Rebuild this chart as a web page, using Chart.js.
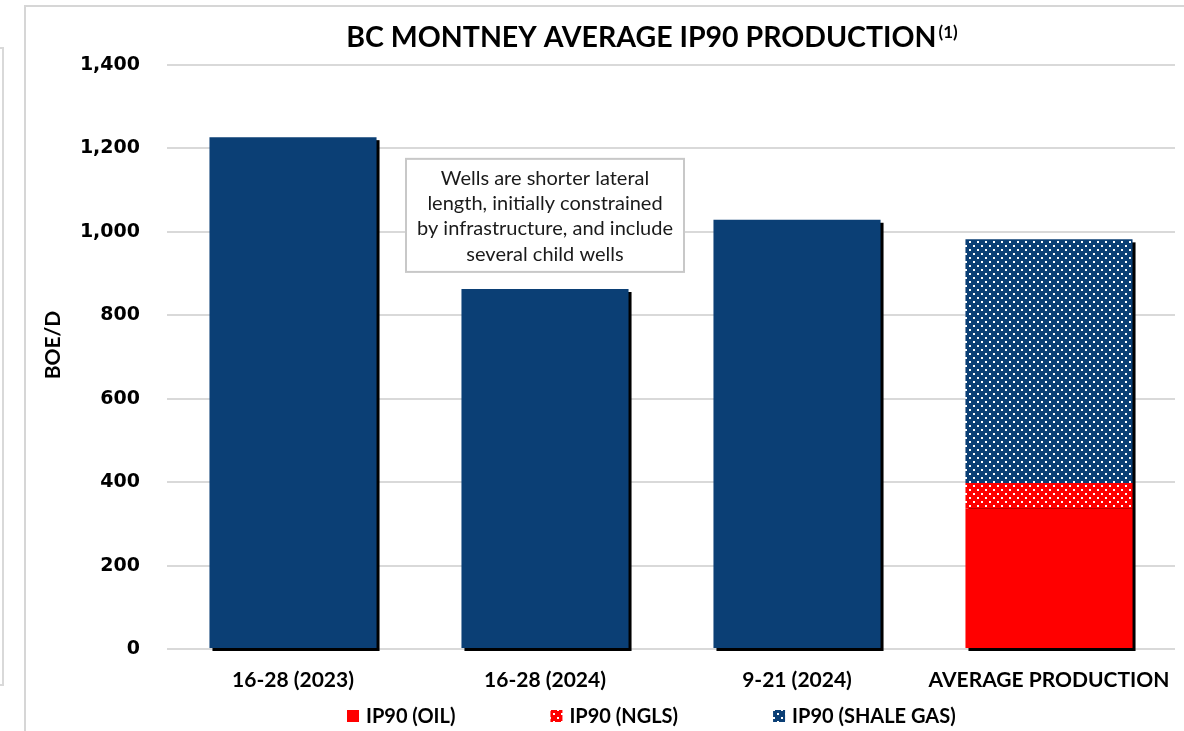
<!DOCTYPE html>
<html>
<head>
<meta charset="utf-8">
<script src="https://cdn.jsdelivr.net/npm/chart.js@4.4.1/dist/chart.umd.min.js"></script>
<style>
  html, body { margin: 0; padding: 0; background: #ffffff; overflow: hidden; }
  #wrap { position: absolute; left: 0; top: 0; width: 1184px; height: 731px; }
  .frame1 { position: absolute; left: 24px; top: 5px; width: 1300px; height: 900px; border: 2px solid #d6d6d6; box-sizing: border-box; }
  .frame2 { position: absolute; left: -20px; top: 47px; width: 24px; height: 639px; border: 2px solid #d9d9d9; box-sizing: border-box; }
</style>
</head>
<body>
<div class="frame1"></div>
<div class="frame2"></div>
<div id="wrap"><canvas id="c"></canvas></div>
<script>
// ---- data ----
const categories = ['16-28 (2023)', '16-28 (2024)', '9-21 (2024)', 'AVERAGE PRODUCTION'];
const totalIP90 = [1227, 863, 1029, null];
const oilIP90 = [null, null, null, 337];
const nglIP90 = [null, null, null, 61];
const gasIP90 = [null, null, null, 584];
const yTicks = [0, 200, 400, 600, 800, 1000, 1200, 1400];
const titleText = 'BC MONTNEY AVERAGE IP90 PRODUCTION';
const titleSup = '(1)';
const yAxisTitle = 'BOE/D';
const noteLines = ['Wells are shorter lateral', 'length, initially constrained', 'by infrastructure, and include', 'several child wells'];

const BLUE = '#0b3f75';
const RED = '#ff0000';

function dotPattern(bg) {
  const c = document.createElement('canvas');
  c.width = 8; c.height = 8;
  const x = c.getContext('2d');
  x.fillStyle = bg; x.fillRect(0, 0, 8, 8);
  x.fillStyle = '#ffffff';
  x.fillRect(1, 1, 2, 2);
  x.fillRect(5, 5, 2, 2);
  return x.createPattern(c, 'repeat');
}

const nglPattern = dotPattern(RED);
const gasPattern = dotPattern(BLUE);

// shadow behind each stacked bar
const shadowPlugin = {
  id: 'barShadow',
  beforeDatasetsDraw(chart) {
    const ctx = chart.ctx;
    const n = chart.data.labels.length;
    ctx.save();
    ctx.fillStyle = '#000000';
    for (let i = 0; i < n; i++) {
      let top = Infinity, base = -Infinity, left = 0, width = 0, found = false;
      chart.data.datasets.forEach((ds, di) => {
        const v = ds.data[i];
        if (v === null || v === undefined) return;
        const el = chart.getDatasetMeta(di).data[i];
        if (!el) return;
        const p = el.getProps(['x', 'y', 'base', 'width'], true);
        top = Math.min(top, p.y, p.base);
        base = Math.max(base, p.y, p.base);
        left = p.x - p.width / 2; width = p.width; found = true;
      });
      if (found) ctx.fillRect(left + 3, top + 3, width, base - top);
    }
    ctx.restore();
  }
};

const decorPlugin = {
  id: 'decor',
  afterDraw(chart) {
    const ctx = chart.ctx;
    const xs = chart.scales.x, ys = chart.scales.y;
    ctx.save();
    // title
    ctx.fillStyle = '#000000';
    ctx.textBaseline = 'alphabetic';
    ctx.font = 'bold 28.5px Lato';
    const mainW = ctx.measureText(titleText).width;
    ctx.font = 'bold 17px Lato';
    const supW = ctx.measureText(titleSup).width;
    const tx = 652 - (mainW + supW + 2) / 2;
    ctx.font = 'bold 28.5px Lato';
    ctx.textAlign = 'left';
    ctx.fillText(titleText, tx, 47);
    ctx.font = 'bold 17px Lato';
    ctx.fillText(titleSup, tx + mainW + 2, 38);

    // y axis title
    ctx.save();
    ctx.translate(53, 345);
    ctx.rotate(-Math.PI / 2);
    ctx.font = 'bold 21px Lato';
    ctx.textAlign = 'center';
    ctx.textBaseline = 'middle';
    ctx.fillText(yAxisTitle, 0, 0);
    ctx.restore();

    // annotation box over second category
    const cx = xs.getPixelForValue(1);
    const bTop = ys.getPixelForValue(1175);
    const bBot = ys.getPixelForValue(904);
    const bw = 278;
    ctx.fillStyle = '#ffffff';
    ctx.fillRect(cx - bw / 2, bTop, bw, bBot - bTop);
    ctx.strokeStyle = '#c8c8c8';
    ctx.lineWidth = 2;
    ctx.strokeRect(cx - bw / 2, bTop, bw, bBot - bTop);
    ctx.fillStyle = '#1a1a1a';
    ctx.font = '20px Lato';
    ctx.textAlign = 'center';
    ctx.textBaseline = 'middle';
    const mid = (bTop + bBot) / 2 + 1;
    noteLines.forEach((t, i) => {
      ctx.fillText(t, cx, mid + (i - 1.5) * 25.3);
    });

    // legend
    const items = chart.data.datasets.filter(d => d.showInLegend);
    ctx.font = 'bold 20px Lato';
    ctx.textAlign = 'left';
    ctx.textBaseline = 'middle';
    let x = 347;
    const ly = 716;
    items.forEach(d => {
      ctx.fillStyle = d.backgroundColor;
      ctx.fillRect(x, ly - 6, 12, 12);
      ctx.fillStyle = '#000000';
      ctx.fillText(d.label, x + 19, ly + 1);
      x += 19 + ctx.measureText(d.label).width + 95;
    });
    ctx.restore();
  }
};

new Chart(document.getElementById('c'), {
  type: 'bar',
  data: {
    labels: categories,
    datasets: [
      { label: 'IP90', data: totalIP90, backgroundColor: BLUE, showInLegend: false },
      { label: 'IP90 (OIL)', data: oilIP90, backgroundColor: RED, showInLegend: true },
      { label: 'IP90 (NGLS)', data: nglIP90, backgroundColor: nglPattern, showInLegend: true },
      { label: 'IP90 (SHALE GAS)', data: gasIP90, backgroundColor: gasPattern, showInLegend: true }
    ]
  },
  options: {
    responsive: true,
    maintainAspectRatio: false,
    animation: false,
    events: [],
    layout: { padding: { top: 65, right: 9, bottom: 0, left: 0 } },
    datasets: { bar: { categoryPercentage: 1, barPercentage: 0.663, borderWidth: 0 } },
    plugins: { legend: { display: false }, title: { display: false }, tooltip: { enabled: false } },
    scales: {
      x: {
        stacked: true,
        grid: { display: false, drawTicks: false },
        border: { display: false },
        ticks: { color: '#000000', font: { family: 'Lato', weight: 'bold', size: 21 }, padding: 19, maxRotation: 0, autoSkip: false },
        afterFit(s) { s.height = 82; s.paddingLeft = 0; s.paddingRight = 0; }
      },
      y: {
        stacked: true,
        min: 0, max: 1400,
        afterBuildTicks(s) { s.ticks = yTicks.map(v => ({ value: v })); },
        grid: { color: '#d9d9d9', lineWidth: 2, drawTicks: false },
        border: { display: false },
        ticks: {
          color: '#000000', padding: 27,
          font: { family: 'DejaVu Sans', weight: 'bold', size: 19 },
          callback: v => v.toLocaleString('en-US')
        },
        title: { display: false },
        afterFit(s) { s.width = 167; }
      }
    }
  },
  plugins: [shadowPlugin, decorPlugin]
});
</script>
</body>
</html>
